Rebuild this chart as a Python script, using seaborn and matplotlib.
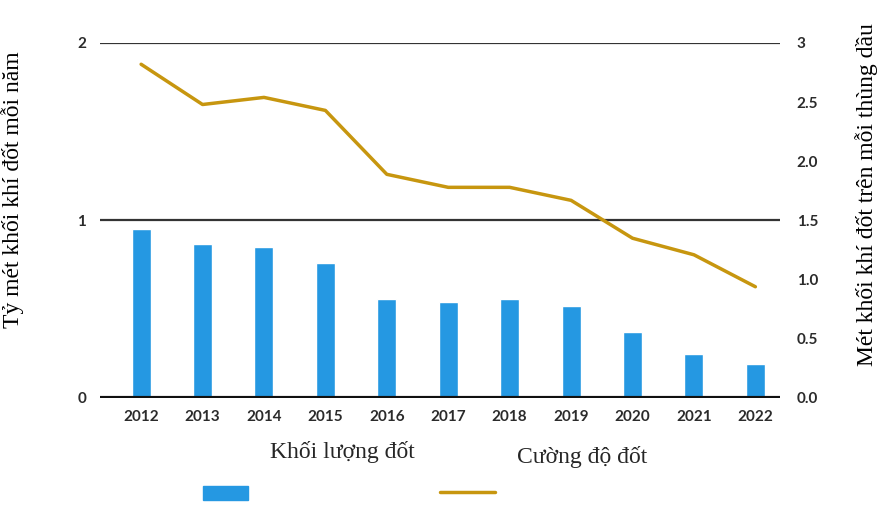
import pandas as pd
import matplotlib.pyplot as plt
import seaborn as sns
from matplotlib.patches import Rectangle
from matplotlib.lines import Line2D

# Data
years = ['2012', '2013', '2014', '2015', '2016', '2017', '2018', '2019', '2020', '2021', '2022']
volume = [0.95, 0.87, 0.85, 0.76, 0.56, 0.54, 0.56, 0.52, 0.37, 0.25, 0.19]
intensity = [2.82, 2.48, 2.54, 2.43, 1.89, 1.78, 1.78, 1.67, 1.35, 1.21, 0.94]
left_ticks = [0, 1, 2]
right_ticks = [0, 0.5, 1.0, 1.5, 2.0, 2.5, 3]
right_tick_labels = ['0.0', '0.5', '1.0', '1.5', '2.0', '2.5', '3']

blue = '#2598e2'
gold = '#c7960f'
tick_font = ['Lato', 'DejaVu Sans']
label_font = ['Liberation Serif', 'DejaVu Serif']

df = pd.DataFrame({'year': years, 'volume': volume, 'intensity': intensity})
df['pos'] = range(len(df))

sns.set_theme(style='white')

fig = plt.figure(figsize=(8.8, 5.24), dpi=100)
ax = fig.add_axes([0.1136, 0.2405, 0.7727, 0.6775])

sns.barplot(data=df, x='year', y='volume', color=blue, width=0.31,
            saturation=1, ax=ax, zorder=3)
ax.set_ylim(0, 2)
ax.set_xlim(-0.67, 10.4)
ax.set_yticks(left_ticks)
ax.set_yticklabels([str(t) for t in left_ticks])

# horizontal gridlines
for t in left_ticks[1:]:
    ax.axhline(t, color='#333333', lw=1.6, zorder=1)
ax.axhline(0, color='#111111', lw=3, zorder=4)

ax2 = ax.twinx()
sns.lineplot(data=df, x='pos', y='intensity', color=gold, lw=2.5, ax=ax2, zorder=5)
ax2.set_ylim(0, 3)
ax2.set_yticks(right_ticks)
ax2.set_yticklabels(right_tick_labels)

for a in (ax, ax2):
    for s in a.spines.values():
        s.set_visible(False)
    a.tick_params(length=0, labelsize=11, colors='#2b2b2b')
    for lab in a.get_xticklabels() + a.get_yticklabels():
        lab.set_fontfamily(tick_font)
        lab.set_fontweight('bold')

ax.tick_params(axis='x', pad=9)
ax.tick_params(axis='y', pad=10)
ax2.tick_params(axis='y', pad=12)
ax.set_xlabel('')
ax.set_ylabel('Tỷ mét khối khí đốt mỗi năm', family=label_font, fontsize=17,
              color='black')
ax.yaxis.set_label_coords(-0.112, 0.586)
ax2.set_xlabel('')
ax2.set_ylabel('Mét khối khí đốt trên mỗi thùng dầu', family=label_font,
               fontsize=17, color='black', rotation=90)
ax2.yaxis.set_label_coords(1.11, 0.572)

# legend, drawn by hand with the labels above the keys
fig.text(0.389, 0.137, 'Khối lượng đốt', family=label_font, fontsize=17,
         ha='center', va='center')
fig.text(0.662, 0.127, 'Cường độ đốt', family=label_font, fontsize=17,
         ha='center', va='center')
fig.patches.append(Rectangle((0.231, 0.046), 0.051, 0.027, transform=fig.transFigure,
                             color=blue, figure=fig))
fig.lines.append(Line2D([0.5, 0.563], [0.061, 0.061], transform=fig.transFigure,
                        color=gold, lw=2.5, figure=fig))

plt.savefig('out.png', dpi=100)
plt.close()
